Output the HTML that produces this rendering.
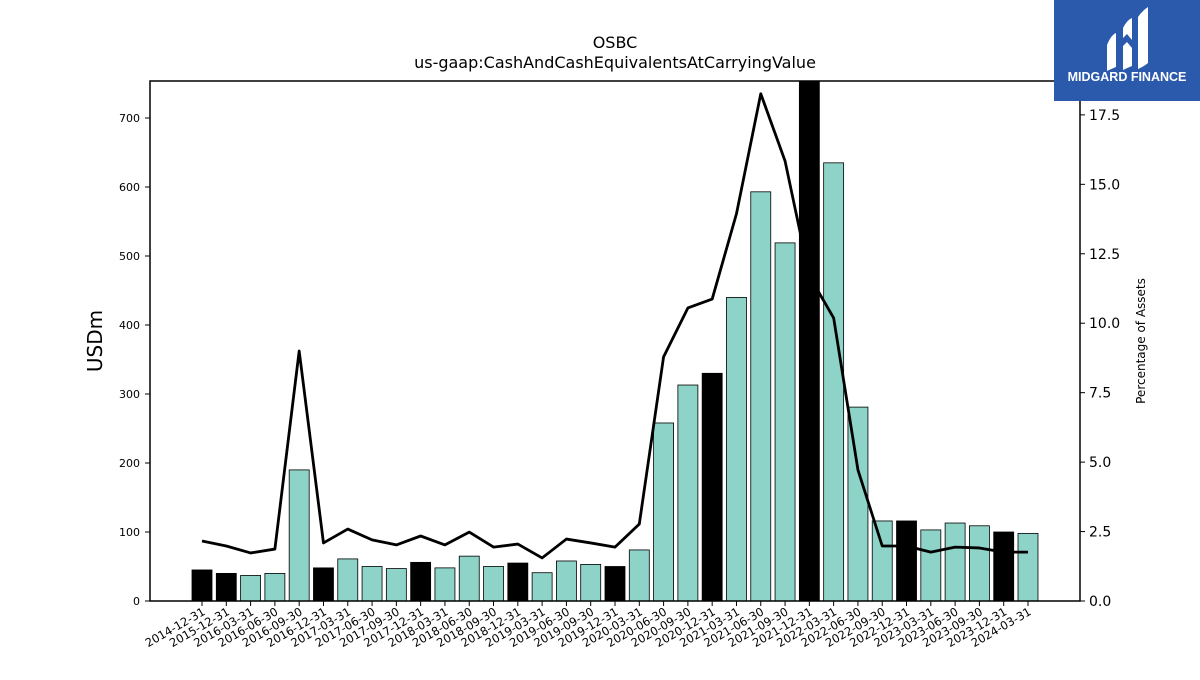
<!DOCTYPE html>
<html><head><meta charset="utf-8"><style>
body{margin:0;background:#fff;width:1200px;height:675px;overflow:hidden;font-family:"Liberation Sans","DejaVu Sans",sans-serif}
svg text{font-family:"DejaVu Sans","Liberation Sans",sans-serif}
</style></head><body>
<svg id="chart" width="1200" height="675" xmlns="http://www.w3.org/2000/svg">
<text x="615" y="48" text-anchor="middle" font-size="16">OSBC</text>
<text x="615" y="68" text-anchor="middle" font-size="16">us-gaap:CashAndCashEquivalentsAtCarryingValue</text>
<g id="bars"></g>
<g id="line"></g>
<g id="axes"></g>
<rect x="150" y="81" width="930" height="520" fill="none" stroke="#000" stroke-width="1.5"/>
<text transform="translate(102,341) rotate(-90)" text-anchor="middle" font-size="20">USDm</text>
<text transform="translate(1145,341) rotate(-90)" text-anchor="middle" font-size="12">Percentage of Assets</text>
<g>
<rect x="1054" y="0" width="146" height="101" fill="#2b5aad"/>
<path d="M1107 45 q4-10 9-12 v34 q-5 2-9 4z M1123 28 q4-8 9-10 v22 l-5-6 -4 4z M1123 46 l4-4 5 6 v18 q-5 2-9 4z M1138 17 q4-6 10-10 v56 q-5 4-10 6z" fill="#fff"/>
<text x="1127" y="81" text-anchor="middle" font-size="12.5" font-weight="bold" fill="#fff" style="font-family:'Liberation Sans',sans-serif">MIDGARD FINANCE</text>
</g>
</svg>
<script>
const categories=["2014-12-31","2015-12-31","2016-03-31","2016-06-30","2016-09-30","2016-12-31","2017-03-31","2017-06-30","2017-09-30","2017-12-31","2018-03-31","2018-06-30","2018-09-30","2018-12-31","2019-03-31","2019-06-30","2019-09-30","2019-12-31","2020-03-31","2020-06-30","2020-09-30","2020-12-31","2021-03-31","2021-06-30","2021-09-30","2021-12-31","2022-03-31","2022-06-30","2022-09-30","2022-12-31","2023-03-31","2023-06-30","2023-09-30","2023-12-31","2024-03-31"];
const cashValues=[45,40,37,40,190,48,61,50,47,56,48,65,50,55,41,58,53,50,74,258,313,330,440,593,519,760,635,281,116,116,103,113,109,100,98];
const pctValues=[2.16,1.98,1.73,1.87,9.0,2.09,2.59,2.2,2.02,2.34,2.02,2.48,1.94,2.05,1.55,2.23,2.09,1.94,2.77,8.79,10.55,10.87,13.94,18.26,15.84,11.7,10.19,4.72,1.98,1.98,1.76,1.94,1.91,1.76,1.76];
const leftTicks=[0,100,200,300,400,500,600,700];
const rightTicks=[0,2.5,5,7.5,10,12.5,15,17.5];
(function(){
const NS="http://www.w3.org/2000/svg";
const plotTop=81,plotBot=601,plotLeft=150,plotRight=1080;
const yMax=753.6,y2Max=18.72;
const xPos=i=>202+i*(1028-202)/(categories.length-1);
const yL=v=>plotBot-Math.min(v,yMax)/yMax*(plotBot-plotTop);
const yR=v=>plotBot-v/y2Max*(plotBot-plotTop);
function mk(tag,attrs,parent){const e=document.createElementNS(NS,tag);for(const k in attrs)e.setAttribute(k,attrs[k]);parent.appendChild(e);return e;}
const bars=document.getElementById('bars'),line=document.getElementById('line'),axes=document.getElementById('axes');
categories.forEach((c,i)=>{
  const y=yL(cashValues[i]);
  const r=mk('rect',{x:xPos(i)-10,y:y,width:20,height:plotBot-y,fill:c.endsWith('12-31')?'#000':'#8dd3c7',stroke:'#000','stroke-width':0.8},bars);
  
  
  const t=mk('line',{x1:xPos(i),x2:xPos(i),y1:plotBot,y2:plotBot+5,stroke:'#000','stroke-width':1},axes);
  
  
  const l=mk('text',{transform:`translate(${xPos(i)+4},${plotBot+13}) rotate(-30)`,'text-anchor':'end','font-size':11.5},axes);
  
  
  l.textContent=c;
});
const p=mk('polyline',{points:pctValues.map((v,i)=>xPos(i)+','+yR(v)).join(' '),fill:'none',stroke:'#000','stroke-width':2.8,'stroke-linejoin':'round'},line);


leftTicks.forEach(v=>{
  const t=mk('line',{x1:plotLeft-5,x2:plotLeft,y1:yL(v),y2:yL(v),stroke:'#000'},axes);
  
  
  const l=mk('text',{x:plotLeft-10,y:yL(v)+4,'text-anchor':'end','font-size':11},axes);
  
  
  l.textContent=v;
});
rightTicks.forEach(v=>{
  const t=mk('line',{x1:plotRight,x2:plotRight+5,y1:yR(v),y2:yR(v),stroke:'#000'},axes);
  
  
  const l=mk('text',{x:plotRight+9,y:yR(v)+5,'font-size':14},axes);
  
  
  l.textContent=v.toFixed(1);
});
})();
</script>
</body></html>
